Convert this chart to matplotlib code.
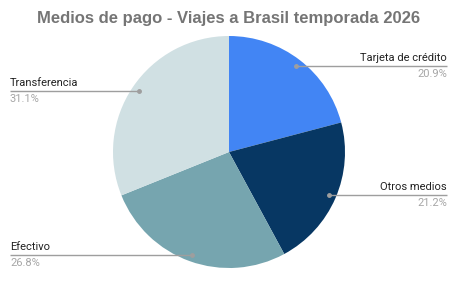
import matplotlib
matplotlib.use("Agg")
import matplotlib.pyplot as plt
import numpy as np

title = "Medios de pago - Viajes a Brasil temporada 2026"
categories = ["Tarjeta de crédito", "Otros medios", "Efectivo", "Transferencia"]
values = [20.9, 21.2, 26.8, 31.1]
pct_labels = ["20.9%", "21.2%", "26.8%", "31.1%"]
colors = ["#4285F4", "#073763", "#76A5AF", "#D0E0E3"]

W, H = 467, 291
plt.rcParams['font.family'] = ['Roboto', 'DejaVu Sans']
fig = plt.figure(figsize=(W / 100, H / 100), dpi=100)
ax = fig.add_axes([0, 0, 1, 1])

cx, cy, R = 229, H - 152, 116
wedges, _ = ax.pie(values, colors=colors, startangle=90, counterclock=False,
                   center=(cx, cy), radius=R, frame=False,
                   wedgeprops=dict(linewidth=0))
ax.set_xlim(0, W)
ax.set_ylim(0, H)
ax.set_aspect('equal')
ax.axis('off')

total = sum(values)
cum = 0
for lab, pct, v in zip(categories, pct_labels, values):
    mid = (cum + v / 2) / total * 2 * np.pi
    cum += v
    dx, dy = np.sin(mid), np.cos(mid)
    px, py = cx + 0.94 * R * dx, cy + 0.94 * R * dy
    if dx >= 0:
        xend, ha = 447, 'right'
    else:
        xend, ha = 10, 'left'
    ax.plot([px, xend], [py, py], color="#9E9E9E", lw=1, solid_capstyle='butt')
    ax.plot([px], [py], 'o', color="#9E9E9E", ms=2.5)
    ax.text(xend, py + 3, lab, ha=ha, va='bottom', fontsize=8, color="#222222")
    ax.text(xend, py - 3, pct, ha=ha, va='top', fontsize=8, color="#A6A6A6")

fig.text(229 / W, 1 - 18 / H, title, ha='center', va='center', fontsize=12,
         fontweight='bold', color="#757575",
         family=['Liberation Sans', 'DejaVu Sans'])

fig.savefig("out.png", dpi=100, facecolor="white")
